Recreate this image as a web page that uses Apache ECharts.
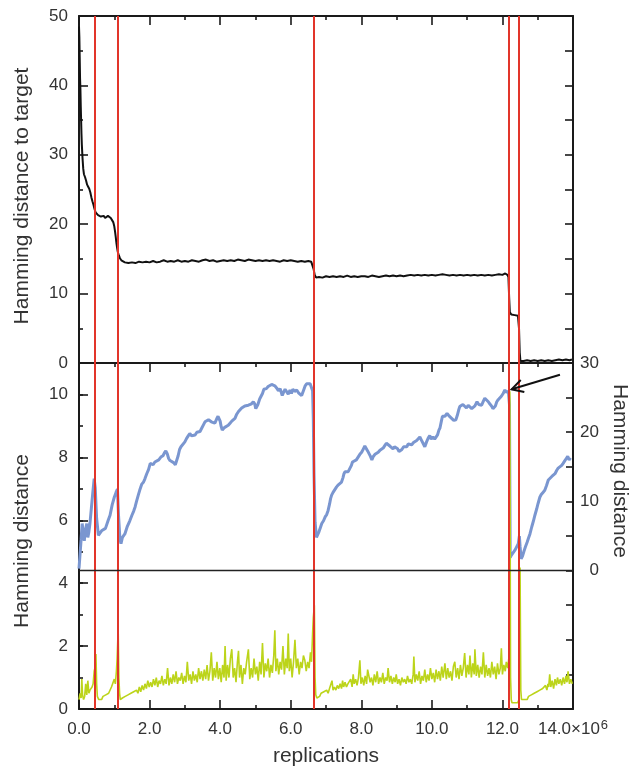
<!DOCTYPE html>
<html>
<head>
<meta charset="utf-8">
<script src="https://cdn.jsdelivr.net/npm/echarts@6/dist/echarts.min.js"></script>
<style>
html,body{margin:0;padding:0;background:#fff;}
#chart{width:631px;height:768px;}
</style>
</head>
<body>
<div id="chart"></div>
<script>
// ---------- data (x in millions of replications) ----------
var xTickMax = 14;
var redLines = [0.46, 1.10, 6.66, 12.18, 12.47];
var arrowTail = [13.63, 28.3];
var arrowHead = [12.26, 26.2];

// top panel: Hamming distance to target
var targetDist = [
[0,48.5],[0.01,47],[0.02,44],[0.03,41],[0.04,39.5],[0.05,37],[0.06,35],[0.07,33],[0.08,31.5],[0.1,29.5],[0.12,28],[0.14,27.2],[0.17,26.8],[0.2,26.3],[0.23,25.7],[0.26,25.4],[0.29,25.1],[0.32,24.6],[0.35,23.9],[0.38,23.3],[0.41,22.8],[0.44,22.2],[0.47,21.7],[0.5,21.5],[0.54,21.3],[0.58,21.4],[0.62,21.1],[0.66,21.0],[0.7,21.2],[0.74,20.9],[0.78,21.1],[0.82,21.2],[0.86,21.0],[0.9,20.9],[0.94,20.7],[0.97,20.3],[1.0,19.7],[1.02,19.0],[1.04,18.2],[1.06,17.3],[1.08,16.6],[1.1,16.0],[1.13,15.5],[1.16,15.1],[1.2,14.8],[1.25,14.6],[1.3,14.5],[1.4,14.4],[1.5,14.5],[1.6,14.4],[1.7,14.6],[1.8,14.5],[1.9,14.6],[2.0,14.5],[2.1,14.7],[2.2,14.5],[2.3,14.6],[2.4,14.8],[2.5,14.6],[2.6,14.7],[2.7,14.6],[2.8,14.8],[2.9,14.6],[3.0,14.7],[3.1,14.6],[3.2,14.8],[3.3,14.7],[3.4,14.6],[3.5,14.8],[3.6,14.9],[3.7,14.7],[3.8,14.8],[3.9,14.6],[4.0,14.7],[4.1,14.8],[4.2,14.7],[4.3,14.8],[4.4,14.7],[4.5,14.9],[4.6,14.8],[4.7,14.7],[4.8,14.9],[4.9,14.8],[5.0,14.7],[5.1,14.8],[5.2,14.7],[5.3,14.8],[5.4,14.7],[5.5,14.8],[5.6,14.7],[5.7,14.6],[5.8,14.8],[5.9,14.7],[6.0,14.8],[6.1,14.7],[6.2,14.6],[6.3,14.7],[6.4,14.6],[6.5,14.7],[6.58,14.6],[6.62,14.4],[6.65,13.5],[6.68,12.7],[6.72,12.3],[6.8,12.4],[6.9,12.3],[7.0,12.5],[7.1,12.4],[7.2,12.5],[7.3,12.4],[7.4,12.5],[7.5,12.4],[7.6,12.6],[7.7,12.4],[7.8,12.5],[7.9,12.4],[8.0,12.5],[8.1,12.5],[8.2,12.4],[8.3,12.6],[8.4,12.5],[8.5,12.4],[8.6,12.5],[8.7,12.6],[8.8,12.5],[8.9,12.6],[9.0,12.5],[9.1,12.6],[9.2,12.5],[9.3,12.6],[9.4,12.7],[9.5,12.6],[9.6,12.7],[9.7,12.6],[9.8,12.7],[9.9,12.6],[10.0,12.7],[10.1,12.6],[10.2,12.7],[10.3,12.8],[10.4,12.7],[10.5,12.6],[10.6,12.7],[10.7,12.6],[10.8,12.7],[10.9,12.6],[11.0,12.7],[11.1,12.6],[11.2,12.7],[11.3,12.6],[11.4,12.7],[11.5,12.6],[11.6,12.7],[11.7,12.6],[11.8,12.7],[11.9,12.8],[12.0,12.7],[12.08,12.9],[12.14,12.7],[12.17,12.4],[12.19,9.5],[12.21,7.3],[12.25,7.0],[12.3,7.1],[12.35,6.9],[12.4,7.0],[12.44,6.8],[12.47,5.0],[12.49,1.5],[12.51,0.3],[12.6,0.3],[12.7,0.4],[12.8,0.3],[12.9,0.4],[13.0,0.3],[13.1,0.4],[13.2,0.3],[13.3,0.4],[13.4,0.3],[13.5,0.4],[13.6,0.5],[13.7,0.4],[13.8,0.5],[13.9,0.4],[13.97,0.5]
];

// middle panel (right axis): blue Hamming distance
var blueDist = [
[0,0.3],[0.03,0.5],[0.06,4.5],[0.09,6.8],[0.12,5.5],[0.15,4.3],[0.18,5.8],[0.22,6.8],[0.25,4.8],[0.28,5.6],[0.31,6.8],[0.35,9.0],[0.39,11.2],[0.43,13.3],[0.46,12.0],[0.5,7.5],[0.55,5.1],[0.6,5.3],[0.65,5.8],[0.7,5.9],[0.75,6.1],[0.78,6.3],[0.83,7.3],[0.88,8.0],[0.94,9.5],[1.0,10.6],[1.05,11.3],[1.09,11.8],[1.12,8.0],[1.16,4.5],[1.19,3.9],[1.23,4.8],[1.3,5.3],[1.37,6.4],[1.44,7.2],[1.5,8.0],[1.55,8.6],[1.59,9.2],[1.63,10.0],[1.68,10.9],[1.72,11.6],[1.78,12.5],[1.83,12.8],[1.87,13.3],[1.92,14.0],[1.97,14.6],[2.02,15.5],[2.06,15.5],[2.1,15.3],[2.15,15.7],[2.2,15.6],[2.26,16.0],[2.32,16.4],[2.38,16.6],[2.42,17.0],[2.46,17.3],[2.5,16.9],[2.54,16.2],[2.58,15.9],[2.63,15.7],[2.68,15.6],[2.73,15.3],[2.77,15.5],[2.81,16.6],[2.85,17.5],[2.89,17.9],[2.94,18.1],[3.0,18.6],[3.05,19.1],[3.1,19.5],[3.14,19.8],[3.19,19.5],[3.24,19.7],[3.29,19.6],[3.34,20.0],[3.39,19.8],[3.43,20.1],[3.48,20.6],[3.53,21.1],[3.57,21.5],[3.62,21.4],[3.67,21.8],[3.71,21.8],[3.75,21.5],[3.8,21.7],[3.85,21.3],[3.9,21.9],[3.94,22.3],[3.97,22.3],[4.0,21.6],[4.03,20.8],[4.06,20.3],[4.09,20.3],[4.13,20.7],[4.18,20.8],[4.23,21.0],[4.28,21.3],[4.33,21.6],[4.38,21.7],[4.42,22.0],[4.47,22.6],[4.52,23.0],[4.56,23.2],[4.61,23.5],[4.66,23.6],[4.7,23.8],[4.75,23.7],[4.8,23.9],[4.84,23.9],[4.89,24.1],[4.94,24.4],[4.98,24.1],[5.01,23.4],[5.03,23.3],[5.07,24.0],[5.12,24.8],[5.16,25.2],[5.2,25.6],[5.24,26.2],[5.27,26.4],[5.31,26.3],[5.36,26.6],[5.41,26.6],[5.46,26.9],[5.5,27.0],[5.55,26.7],[5.6,26.4],[5.65,26.0],[5.7,26.3],[5.76,25.3],[5.8,25.8],[5.84,26.2],[5.88,26.0],[5.93,25.5],[5.98,26.1],[6.02,25.6],[6.06,26.2],[6.11,25.9],[6.17,26.1],[6.22,25.7],[6.27,25.9],[6.31,25.3],[6.36,26.0],[6.41,26.7],[6.45,27.0],[6.5,26.9],[6.55,27.0],[6.59,26.8],[6.62,26.0],[6.64,22.0],[6.66,14.0],[6.69,7.0],[6.73,4.8],[6.76,4.9],[6.8,5.6],[6.84,6.2],[6.88,6.8],[6.93,7.2],[6.98,7.8],[7.02,8.1],[7.06,8.7],[7.1,9.6],[7.13,10.4],[7.16,10.9],[7.2,11.3],[7.25,11.7],[7.3,12.1],[7.35,12.4],[7.4,12.5],[7.44,12.8],[7.48,13.4],[7.51,14.0],[7.54,14.3],[7.58,14.5],[7.63,14.3],[7.68,14.5],[7.72,15.2],[7.75,15.7],[7.8,15.8],[7.86,16.0],[7.91,16.2],[7.96,16.8],[8.01,17.1],[8.06,17.6],[8.1,18.0],[8.14,17.8],[8.18,17.3],[8.22,17.2],[8.26,16.5],[8.3,16.0],[8.34,16.5],[8.39,16.8],[8.43,16.9],[8.48,17.1],[8.53,17.4],[8.57,17.3],[8.62,17.7],[8.67,18.1],[8.71,18.4],[8.76,18.2],[8.81,18.0],[8.86,17.9],[8.9,17.6],[8.94,17.9],[8.98,18.1],[9.03,17.6],[9.07,17.2],[9.11,17.0],[9.15,17.5],[9.2,17.9],[9.24,18.1],[9.29,17.9],[9.33,18.3],[9.38,18.4],[9.43,18.2],[9.48,18.5],[9.52,18.6],[9.57,18.8],[9.62,19.0],[9.66,19.3],[9.7,18.9],[9.75,18.4],[9.8,17.9],[9.85,18.6],[9.9,19.2],[9.94,19.5],[9.98,19.0],[10.03,19.3],[10.08,19.0],[10.11,19.2],[10.16,19.6],[10.2,20.3],[10.23,20.6],[10.27,21.6],[10.3,22.3],[10.32,22.5],[10.37,22.3],[10.43,22.7],[10.48,22.4],[10.52,22.2],[10.56,22.0],[10.62,21.7],[10.68,21.8],[10.72,22.4],[10.76,23.2],[10.79,23.7],[10.84,23.6],[10.88,24.0],[10.93,23.9],[10.98,23.5],[11.03,23.9],[11.08,23.7],[11.13,23.4],[11.17,23.2],[11.22,23.8],[11.28,24.4],[11.33,24.0],[11.37,24.2],[11.41,23.9],[11.46,24.5],[11.5,24.9],[11.55,24.7],[11.6,24.4],[11.64,24.1],[11.69,23.8],[11.73,23.4],[11.76,23.2],[11.8,23.8],[11.84,24.4],[11.88,24.7],[11.92,24.9],[11.97,25.2],[12.02,25.6],[12.07,26.1],[12.11,25.8],[12.14,25.6],[12.17,25.9],[12.2,24.0],[12.22,1.9],[12.25,2.2],[12.29,2.5],[12.32,2.6],[12.36,3.0],[12.41,3.5],[12.45,3.9],[12.48,5.0],[12.5,3.5],[12.53,1.7],[12.57,2.1],[12.61,2.8],[12.65,3.4],[12.7,4.1],[12.74,4.7],[12.78,5.3],[12.83,6.3],[12.88,7.2],[12.92,8.0],[12.97,8.9],[13.01,9.7],[13.06,10.6],[13.1,11.0],[13.15,11.3],[13.2,11.6],[13.25,12.3],[13.3,13.1],[13.35,13.2],[13.4,13.6],[13.44,13.5],[13.49,14.0],[13.54,14.5],[13.58,14.8],[13.63,15.0],[13.68,15.2],[13.72,15.5],[13.77,15.9],[13.81,16.2],[13.85,16.5],[13.89,16.0],[13.93,16.3]
];

// bottom panel (left axis): green Hamming distance
var greenDist = [
[0,0.3],[0.03,0.5],[0.06,0.35],[0.08,0.95],[0.1,0.45],[0.13,0.3],[0.16,0.4],[0.19,0.8],[0.22,0.45],[0.25,0.9],[0.28,0.5],[0.31,0.6],[0.34,0.55],[0.37,0.7],[0.4,0.8],[0.43,1.2],[0.45,1.3],[0.48,1.75],[0.5,0.8],[0.52,0.4],[0.56,0.3],[0.6,0.35],[0.64,0.3],[0.68,0.4],[0.72,0.35],[0.76,0.45],[0.8,0.4],[0.84,0.5],[0.88,0.55],[0.92,0.7],[0.96,0.75],[1.0,0.95],[1.03,0.8],[1.06,1.2],[1.08,1.6],[1.11,2.55],[1.13,1.0],[1.15,0.5],[1.17,0.3],[1.19,0.25],[1.23,0.35],[1.27,0.3],[1.31,0.4],[1.35,0.35],[1.39,0.45],[1.43,0.4],[1.47,0.5],[1.51,0.45],[1.55,0.55],[1.59,0.5],[1.63,0.6],[1.67,0.5],[1.71,0.7],[1.75,0.55],[1.79,0.75],[1.83,0.6],[1.87,0.8],[1.91,0.65],[1.95,0.9],[1.99,0.7],[2.03,0.85],[2.07,0.7],[2.11,0.95],[2.15,0.75],[2.19,1.0],[2.23,0.7],[2.27,0.9],[2.31,0.8],[2.35,1.05],[2.39,0.75],[2.43,0.95],[2.47,0.8],[2.51,1.3],[2.55,0.75],[2.59,1.0],[2.63,0.8],[2.67,1.1],[2.71,0.85],[2.75,1.2],[2.79,0.8],[2.83,1.0],[2.87,0.9],[2.91,1.15],[2.95,0.8],[2.99,1.05],[3.03,0.85],[3.07,1.5],[3.11,0.9],[3.15,1.1],[3.19,0.8],[3.23,1.2],[3.27,0.9],[3.31,1.1],[3.35,0.85],[3.39,1.3],[3.43,0.95],[3.47,1.2],[3.51,0.9],[3.55,1.25],[3.59,0.95],[3.63,1.4],[3.67,0.9],[3.71,1.2],[3.75,1.8],[3.79,0.9],[3.83,1.3],[3.87,1.0],[3.91,1.5],[3.95,0.95],[3.99,1.3],[4.03,0.85],[4.07,1.4],[4.11,1.0],[4.14,2.0],[4.17,0.9],[4.21,1.4],[4.25,1.0],[4.29,1.6],[4.33,1.9],[4.37,1.0],[4.41,1.3],[4.45,0.85],[4.49,1.5],[4.52,1.85],[4.55,1.0],[4.59,1.4],[4.63,0.8],[4.67,1.3],[4.71,1.1],[4.75,1.5],[4.8,1.9],[4.84,0.95],[4.88,1.3],[4.92,1.0],[4.96,1.6],[5.0,1.1],[5.04,1.35],[5.08,0.9],[5.12,1.5],[5.16,1.1],[5.2,2.1],[5.24,1.0],[5.28,1.45],[5.32,1.2],[5.36,1.6],[5.4,1.0],[5.44,1.4],[5.48,1.15],[5.52,1.7],[5.55,2.5],[5.58,1.2],[5.62,1.6],[5.66,1.1],[5.7,1.5],[5.74,1.25],[5.78,2.0],[5.82,1.1],[5.86,1.6],[5.9,1.3],[5.93,2.4],[5.96,1.2],[6.0,1.6],[6.04,1.0],[6.08,1.5],[6.12,2.2],[6.16,1.3],[6.2,1.6],[6.24,1.1],[6.28,1.5],[6.32,1.3],[6.36,1.7],[6.4,1.55],[6.44,1.2],[6.48,1.5],[6.52,1.3],[6.56,1.8],[6.59,1.5],[6.62,2.4],[6.64,2.9],[6.67,3.3],[6.69,1.0],[6.71,0.45],[6.74,0.35],[6.78,0.4],[6.82,0.4],[6.86,0.5],[6.9,0.45],[6.94,0.55],[6.98,0.5],[7.02,0.6],[7.06,0.5],[7.1,0.65],[7.14,0.6],[7.17,0.9],[7.2,0.6],[7.24,0.7],[7.28,0.6],[7.32,0.75],[7.36,0.65],[7.4,0.8],[7.44,0.65],[7.47,0.9],[7.5,0.7],[7.54,0.85],[7.58,0.7],[7.62,0.8],[7.66,0.75],[7.7,0.95],[7.74,0.7],[7.77,1.1],[7.8,0.8],[7.84,0.95],[7.88,0.75],[7.92,1.0],[7.96,1.55],[7.99,0.8],[8.03,1.0],[8.07,0.75],[8.11,1.05],[8.15,0.8],[8.18,1.25],[8.21,1.3],[8.25,0.85],[8.29,1.0],[8.33,0.75],[8.37,1.1],[8.41,0.85],[8.45,1.2],[8.49,0.8],[8.53,1.0],[8.57,0.85],[8.61,1.15],[8.65,0.8],[8.69,1.0],[8.73,0.9],[8.76,1.3],[8.8,0.85],[8.84,1.05],[8.88,0.8],[8.92,1.0],[8.96,0.85],[8.99,1.1],[9.03,0.8],[9.07,0.95],[9.11,0.75],[9.15,1.0],[9.19,0.85],[9.23,0.95],[9.27,0.8],[9.31,1.05],[9.35,0.85],[9.39,0.95],[9.43,0.8],[9.47,1.1],[9.49,1.67],[9.52,0.85],[9.56,1.1],[9.6,0.9],[9.64,1.2],[9.68,0.8],[9.72,1.05],[9.76,0.9],[9.8,1.25],[9.84,0.85],[9.88,1.1],[9.92,0.9],[9.96,1.3],[10.0,0.95],[10.04,1.15],[10.08,0.85],[10.12,1.25],[10.16,0.95],[10.2,1.2],[10.24,0.9],[10.28,1.35],[10.32,1.0],[10.37,1.45],[10.41,0.95],[10.45,1.3],[10.49,1.0],[10.53,1.2],[10.57,0.9],[10.61,1.35],[10.65,1.5],[10.69,1.0],[10.73,1.3],[10.77,0.95],[10.81,1.4],[10.85,1.05],[10.89,1.3],[10.93,1.78],[10.97,1.0],[11.01,1.4],[11.05,1.1],[11.08,1.7],[11.12,1.0],[11.16,1.45],[11.2,1.1],[11.22,1.9],[11.26,1.05],[11.3,1.4],[11.34,1.0],[11.38,1.35],[11.42,1.1],[11.46,1.8],[11.5,1.0],[11.54,1.4],[11.58,1.05],[11.62,1.3],[11.66,1.0],[11.7,1.5],[11.74,1.1],[11.78,1.35],[11.82,0.95],[11.86,1.45],[11.9,1.1],[11.94,1.3],[11.97,1.93],[12.0,1.1],[12.04,1.4],[12.08,1.2],[12.11,1.5],[12.15,1.3],[12.18,1.6],[12.21,10.1],[12.23,1.0],[12.25,0.3],[12.27,0.2],[12.31,0.15],[12.35,0.2],[12.39,0.15],[12.43,0.2],[12.47,0.3],[12.5,4.5],[12.52,0.6],[12.54,0.3],[12.58,0.25],[12.62,0.3],[12.66,0.35],[12.7,0.3],[12.74,0.4],[12.78,0.35],[12.82,0.45],[12.86,0.4],[12.9,0.5],[12.94,0.45],[12.98,0.55],[13.02,0.5],[13.06,0.6],[13.1,0.55],[13.14,0.65],[13.18,0.6],[13.22,0.75],[13.26,0.6],[13.29,0.8],[13.31,0.7],[13.34,1.1],[13.37,0.7],[13.41,0.9],[13.45,0.65],[13.49,0.95],[13.53,0.75],[13.56,1.0],[13.6,0.8],[13.64,0.95],[13.68,0.75],[13.72,1.0],[13.76,0.8],[13.8,1.05],[13.83,0.85],[13.86,1.2],[13.9,0.8],[13.94,0.95],[13.98,0.8]
];

// ---------- chart ----------
var FONT = 'Liberation Sans';
var TXT = '#333';
var AX = '#1a1a1a';
var RED = '#e2352a';
var chart = echarts.init(document.getElementById('chart'), null, {renderer: 'canvas'});

function xAx(gridIndex, position, showLabel) {
  return {
    type: 'value', gridIndex: gridIndex, position: position,
    min: 0, max: xTickMax, interval: 2,
    axisLine: {show: true, onZero: false, lineStyle: {color: AX, width: 2}},
    axisTick: {show: true, inside: true, length: 9, lineStyle: {color: AX, width: 1.6}},
    minorTick: {show: true, splitNumber: 2, length: 4, lineStyle: {color: AX, width: 1.6}},
    splitLine: {show: false},
    axisLabel: showLabel ? {
      show: true, margin: 10, fontSize: 17, fontFamily: FONT, color: TXT,
      formatter: function (v) {
        if (v === xTickMax) return '{m|' + v.toFixed(1) + '×10}{s|6}';
        return '{m|' + v.toFixed(1) + '}';
      },
      rich: {
        m: {fontSize: 17, fontFamily: FONT, color: TXT, lineHeight: 20},
        s: {fontSize: 13, fontFamily: FONT, color: TXT, lineHeight: 20, verticalAlign: 'top', padding: [0, 0, 6, 1]}
      }
    } : {show: false}
  };
}

var redMarks = redLines.map(function (v) { return {xAxis: v}; });

var option = {
  animation: false,
  backgroundColor: '#fff',
  grid: [
    {left: 79, right: 58, top: 16, height: 347},
    {left: 79, right: 58, top: 363, height: 346}
  ],
  xAxis: [
    xAx(0, 'top', false),
    xAx(1, 'bottom', true),
    xAx(1, 'top', false)
  ],
  yAxis: [
    { // 0: top panel left
      type: 'value', gridIndex: 0, position: 'left', min: 0, max: 50, interval: 10,
      axisLine: {show: true, lineStyle: {color: AX, width: 2}},
      axisTick: {show: true, inside: true, length: 9, lineStyle: {color: AX, width: 1.6}},
      minorTick: {show: true, splitNumber: 2, length: 4, lineStyle: {color: AX, width: 1.6}},
      splitLine: {show: false},
      axisLabel: {show: true, margin: 11, fontSize: 17, fontFamily: FONT, color: TXT}
    },
    { // 1: top panel right
      type: 'value', gridIndex: 0, position: 'right', min: 0, max: 50, interval: 5,
      axisLine: {show: true, lineStyle: {color: AX, width: 2}},
      axisTick: {show: true, inside: true, length: 8, lineStyle: {color: AX, width: 1.6}},
      splitLine: {show: false},
      axisLabel: {show: false}
    },
    { // 2: lower grid left, major ticks + labels
      type: 'value', gridIndex: 1, position: 'left', min: 0, max: 11, interval: 2,
      axisLine: {show: true, lineStyle: {color: AX, width: 2}},
      axisTick: {show: true, inside: true, length: 9, lineStyle: {color: AX, width: 1.6}},
      splitLine: {show: false},
      axisLabel: {show: true, margin: 11, fontSize: 17, fontFamily: FONT, color: TXT,
        formatter: function (v) { return v % 2 === 0 ? String(v) : ''; }}
    },
    { // 3: lower grid left, minor ticks
      type: 'value', gridIndex: 1, position: 'left', min: 0, max: 11, interval: 1,
      axisLine: {show: false},
      axisTick: {show: true, inside: true, length: 4, lineStyle: {color: AX, width: 1.6}},
      splitLine: {show: false},
      axisLabel: {show: false}
    },
    { // 4: lower grid right (blue)
      type: 'value', gridIndex: 1, position: 'right', min: -20, max: 30, interval: 5,
      axisLine: {show: true, lineStyle: {color: AX, width: 2}},
      axisTick: {show: true, inside: true, length: 7, lineStyle: {color: AX, width: 1.6}},
      splitLine: {show: false},
      axisLabel: {show: true, margin: 26, align: 'right', fontSize: 17, fontFamily: FONT, color: TXT,
        formatter: function (v) { return (v >= 0 && v % 10 === 0) ? String(v) : ''; }}
    }
  ],
  series: [
    {
      name: 'redlines', type: 'line', xAxisIndex: 1, yAxisIndex: 2,
      data: [], showSymbol: false, z: 1,
      markLine: {
        silent: true, symbol: ['none', 'none'], label: {show: false},
        lineStyle: {color: RED, width: 2, type: 'solid'},
        data: redMarks
      }
    },
    {
      name: 'blue', type: 'line', xAxisIndex: 1, yAxisIndex: 4,
      data: blueDist, showSymbol: false, symbol: 'none',
      lineStyle: {color: '#7a96d0', width: 3}, z: 2,
      markLine: {
        silent: true, symbol: ['none', 'none'], label: {show: false},
        lineStyle: {color: '#222', width: 1.4, type: 'solid'},
        data: [{yAxis: 0}]
      }
    },
    {
      name: 'green', type: 'line', xAxisIndex: 1, yAxisIndex: 2,
      data: greenDist, showSymbol: false, symbol: 'none',
      lineStyle: {color: '#bcd41a', width: 1.6}, z: 3
    },
    {
      name: 'target', type: 'line', xAxisIndex: 0, yAxisIndex: 0,
      data: targetDist, showSymbol: false, symbol: 'none',
      lineStyle: {color: '#111', width: 2}, z: 3,
      markLine: {
        silent: true, symbol: ['none', 'none'], label: {show: false},
        lineStyle: {color: RED, width: 2, type: 'solid'},
        data: redMarks
      }
    }
  ]
};
chart.setOption(option);

// titles and arrow annotation
var tail = chart.convertToPixel({xAxisIndex: 1, yAxisIndex: 4}, arrowTail);
var head = chart.convertToPixel({xAxisIndex: 1, yAxisIndex: 4}, arrowHead);
var dx = tail[0] - head[0], dy = tail[1] - head[1];
var L = Math.sqrt(dx * dx + dy * dy);
var ux = dx / L, uy = dy / L;
var leg = 13, ang = 0.5;
function rot(x, y, a) { return [x * Math.cos(a) - y * Math.sin(a), x * Math.sin(a) + y * Math.cos(a)]; }
var l1 = rot(ux, uy, ang), l2 = rot(ux, uy, -ang);

chart.setOption({
  graphic: [
    {type: 'text', x: 22, y: 196, rotation: Math.PI / 2,
     style: {text: 'Hamming distance to target', fontSize: 21, fontFamily: FONT, fill: TXT, align: 'center', verticalAlign: 'middle'}},
    {type: 'text', x: 22, y: 541, rotation: Math.PI / 2,
     style: {text: 'Hamming distance', fontSize: 21, fontFamily: FONT, fill: TXT, align: 'center', verticalAlign: 'middle'}},
    {type: 'text', x: 620, y: 471, rotation: -Math.PI / 2,
     style: {text: 'Hamming distance', fontSize: 21, fontFamily: FONT, fill: TXT, align: 'center', verticalAlign: 'middle'}},
    {type: 'text', x: 326, y: 756,
     style: {text: 'replications', fontSize: 21, fontFamily: FONT, fill: TXT, align: 'center', verticalAlign: 'middle'}},
    {type: 'line', shape: {x1: tail[0], y1: tail[1], x2: head[0], y2: head[1]},
     style: {stroke: '#111', lineWidth: 2}, z: 100},
    {type: 'polyline',
     shape: {points: [[head[0] + l1[0] * leg, head[1] + l1[1] * leg], [head[0], head[1]], [head[0] + l2[0] * leg, head[1] + l2[1] * leg]]},
     style: {stroke: '#111', lineWidth: 2, fill: null}, z: 100}
  ]
});
</script>
</body>
</html>
